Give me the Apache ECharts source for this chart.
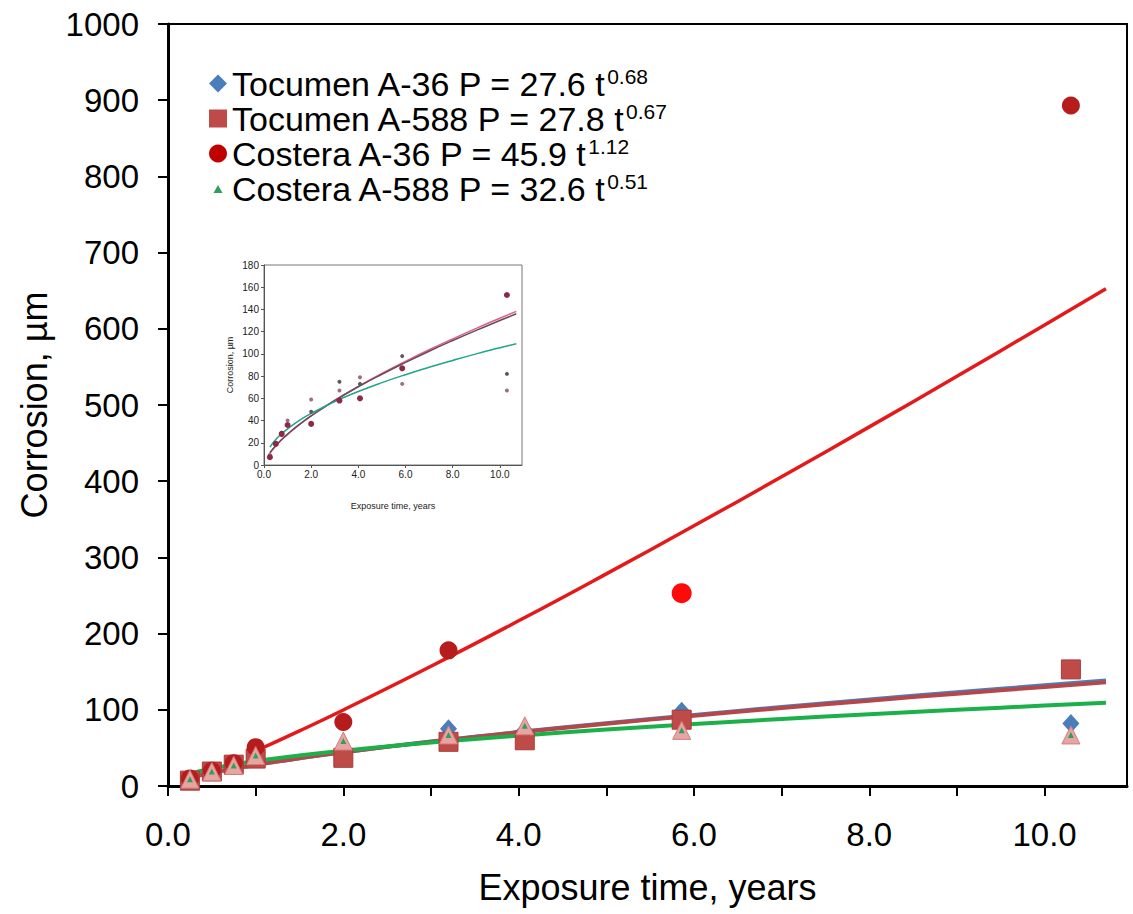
<!DOCTYPE html>
<html><head><meta charset="utf-8">
<script src="https://cdn.jsdelivr.net/npm/echarts@6/dist/echarts.min.js"></script>
<style>html,body{margin:0;padding:0;background:#fff}#c{width:1133px;height:914px}</style>
</head><body><div id="c"></div>
<script>
// ---- measured points (exposure time in years, corrosion in µm) ----
const tTocumen = [0.25, 0.5, 0.75, 1.0, 2.0, 3.2, 4.07, 5.86, 10.3];
const tocumenA36 = [8, 20, 29, 36, 48, 75, 73, 98, 82];
const tocumenA588 = [7, 19, 28, 36, 37, 58, 60, 87, 153];
const tCosteraA36 = [0.25, 0.5, 0.75, 1.0, 2.0, 3.2, 5.86, 10.3];
const costeraA36 = [10, 20, 30, 51, 84, 178, 253, 893];
const tCosteraA588 = [0.25, 0.5, 0.75, 1.0, 2.0, 3.2, 4.07, 5.86, 10.3];
const costeraA588 = [9, 19, 27, 40, 59, 67, 79, 73, 67];

// ---- fitted curves ----
const fitT = [0.25, 0.5, 0.75, 1, 1.5, 2, 3, 4, 5, 6, 7, 8, 9, 10, 10.7];
const fitTocumenA36 = [10.8, 17.2, 22.7, 27.6, 36.4, 44.2, 58.3, 70.8, 82.5, 93.3, 103.7, 113.5, 123.0, 132.1, 138.3];
const fitTocumenA588 = [11.0, 17.5, 22.9, 27.8, 36.5, 44.2, 58.0, 70.4, 81.7, 92.3, 102.4, 112.0, 121.2, 130.0, 136.1];
const fitCosteraA588 = [16.1, 22.9, 28.2, 32.6, 40.1, 46.4, 57.1, 66.1, 74.1, 81.3, 87.9, 94.1, 100.0, 105.5, 109.2];
const fitTCosteraA36 = [1, 1.5, 2, 3, 4, 5, 6, 7, 8, 9, 10, 10.7];
const fitCosteraA36 = [45.9, 72.3, 99.8, 157.1, 216.8, 278.4, 341.5, 405.8, 471.3, 537.7, 605.1, 652.7];

// ---- text ----
const seriesNames = ['Tocumen A-36', 'Tocumen A-588', 'Costera A-36', 'Costera A-588'];
const legendEq = ['P = 27.6 t', 'P = 27.8 t', 'P = 45.9 t', 'P = 32.6 t'];
const legendExp = ['0.68', '0.67', '1.12', '0.51'];
const xTitle = 'Exposure time, years';
const yTitle = 'Corrosion, µm';

const pairs = (xs, ys) => xs.map((x, i) => [x, ys[i]]);
const NARROW = "'Liberation Sans Narrow', 'Arial Narrow', 'Liberation Sans', sans-serif";
const ARIAL = "'Liberation Sans', Arial, sans-serif";

const chart = echarts.init(document.getElementById('c'), null, {renderer: 'svg'});

const evenLabel = v => {
  const r = Math.round(v);
  return (Math.abs(v - r) < 1e-6 && r % 2 === 0) ? r.toFixed(1) : '';
};

const option = {
  backgroundColor: '#fff',
  animation: false,
  grid: [
    {left: 168, top: 24, right: 6, bottom: 128, show: true, borderColor: '#000', borderWidth: 2, z: 0},
    {left: 264, top: 265, width: 258, height: 200, show: true, borderColor: '#777', borderWidth: 1, backgroundColor: '#fff', z: 3}
  ],
  xAxis: [
    {
      gridIndex: 0, type: 'value', min: 0, max: 10.94, interval: 1,
      axisLine: {show: true, lineStyle: {color: '#000', width: 3}},
      axisTick: {show: true, length: 10, inside: false, lineStyle: {color: '#000', width: 2}},
      axisLabel: {formatter: evenLabel, fontSize: 33, margin: 32, color: '#000', fontFamily: NARROW, showMaxLabel: false},
      splitLine: {show: false},
      name: xTitle, nameLocation: 'middle', nameGap: 83,
      nameTextStyle: {fontSize: 36, color: '#000', fontFamily: NARROW}
    },
    {
      gridIndex: 1, type: 'value', min: 0, max: 10.94, interval: 2,
      axisLine: {show: true, lineStyle: {color: '#555', width: 1}},
      axisTick: {show: true, length: 3, inside: false, lineStyle: {color: '#555'}},
      axisLabel: {formatter: v => Number.isInteger(v) ? v.toFixed(1) : '', fontSize: 10, margin: 4, color: '#222', fontFamily: ARIAL, showMaxLabel: false},
      splitLine: {show: false},
      name: xTitle, nameLocation: 'middle', nameGap: 36,
      nameTextStyle: {fontSize: 9, color: '#222', fontFamily: ARIAL},
      z: 4
    }
  ],
  yAxis: [
    {
      gridIndex: 0, type: 'value', min: 0, max: 1000, interval: 100,
      axisLine: {show: true, lineStyle: {color: '#000', width: 3}},
      axisTick: {show: true, length: 10, inside: false, lineStyle: {color: '#000', width: 2}},
      axisLabel: {formatter: v => String(v), fontSize: 33, margin: 29, color: '#000', fontFamily: ARIAL},
      splitLine: {show: false},
      name: yTitle, nameLocation: 'middle', nameGap: 116,
      nameTextStyle: {fontSize: 36, color: '#000', fontFamily: NARROW}
    },
    {
      gridIndex: 1, type: 'value', min: 0, max: 180, interval: 20,
      axisLine: {show: true, lineStyle: {color: '#555', width: 1}},
      axisTick: {show: true, length: 3, inside: false, lineStyle: {color: '#555'}},
      axisLabel: {fontSize: 10, margin: 5, color: '#222', fontFamily: ARIAL},
      splitLine: {show: false},
      name: yTitle, nameLocation: 'middle', nameGap: 30,
      nameTextStyle: {fontSize: 9, color: '#222', fontFamily: ARIAL},
      z: 4
    }
  ],
  legend: {
    orient: 'vertical', left: 204, top: 61, itemGap: 0, itemWidth: 18, itemHeight: 18,
    selectedMode: false,
    data: [
      {name: seriesNames[0], icon: 'diamond', itemStyle: {color: '#4a7ebb', borderWidth: 0}},
      {name: seriesNames[1], icon: 'rect', itemStyle: {color: '#be4b48', borderWidth: 0}},
      {name: seriesNames[2], icon: 'circle', itemStyle: {color: '#c00000', borderWidth: 0}},
      {name: seriesNames[3], icon: 'path://M0,0 M20,20 M10,6 L15,15 L5,15 Z', itemStyle: {color: '#2ea05a', borderWidth: 0}}
    ],
    formatter: name => {
      const i = seriesNames.indexOf(name);
      return '{m|' + name + ' ' + legendEq[i] + '}{s|' + legendExp[i] + '}';
    },
    textStyle: {
      fontFamily: ARIAL, fontSize: 34, color: '#000', lineHeight: 35,
      rich: {
        m: {fontFamily: ARIAL, fontSize: 34, color: '#000', lineHeight: 35},
        s: {fontFamily: ARIAL, fontSize: 21, color: '#000', lineHeight: 22, verticalAlign: 'top'}
      }
    }
  },
  series: [
    // main fits
    {name: 'fitTA36', type: 'line', xAxisIndex: 0, yAxisIndex: 0, data: pairs(fitT, fitTocumenA36), smooth: true, showSymbol: false, lineStyle: {color: '#4a7ebb', width: 4}, silent: true, z: 2},
    {name: 'fitTA588', type: 'line', xAxisIndex: 0, yAxisIndex: 0, data: pairs(fitT, fitTocumenA588), smooth: true, showSymbol: false, lineStyle: {color: '#b5474a', width: 4}, silent: true, z: 2},
    {name: 'fitCA588', type: 'line', xAxisIndex: 0, yAxisIndex: 0, data: pairs(fitT, fitCosteraA588), smooth: true, showSymbol: false, lineStyle: {color: '#1cb04a', width: 4}, silent: true, z: 2},
    {name: 'fitCA36', type: 'line', xAxisIndex: 0, yAxisIndex: 0, data: pairs(fitTCosteraA36, fitCosteraA36), smooth: true, showSymbol: false, lineStyle: {color: '#e41a1a', width: 3.5}, silent: true, z: 2},
    // main markers
    {name: seriesNames[0], type: 'scatter', xAxisIndex: 0, yAxisIndex: 0, data: pairs(tTocumen, tocumenA36), symbol: 'diamond', symbolSize: [17, 19], itemStyle: {color: '#4a7ebb', opacity: 1}, z: 3},
    {name: seriesNames[1], type: 'scatter', xAxisIndex: 0, yAxisIndex: 0, data: pairs(tTocumen, tocumenA588), symbol: 'rect', symbolSize: 19, itemStyle: {color: '#be4b48', borderColor: '#a83c3c', borderWidth: 1, opacity: 1}, z: 3},
    {name: seriesNames[2], type: 'scatter', xAxisIndex: 0, yAxisIndex: 0,
      data: pairs(tCosteraA36, costeraA36).map(p => p[0] === 5.86 ? {value: p, itemStyle: {color: '#ff0a0a'}, symbolSize: 20} : p),
      symbol: 'circle', symbolSize: 18, itemStyle: {color: '#b71c1c', opacity: 1}, z: 3},
    {name: seriesNames[3], type: 'scatter', xAxisIndex: 0, yAxisIndex: 0, data: pairs(tCosteraA588, costeraA588), symbol: 'triangle', symbolSize: 18, itemStyle: {color: '#e8a4a2', borderColor: '#cf7f7c', borderWidth: 1, opacity: 1}, z: 3},
    {name: 'costeraA588core', type: 'scatter', xAxisIndex: 0, yAxisIndex: 0, data: pairs(tCosteraA588, costeraA588), symbol: 'triangle', symbolSize: 6, itemStyle: {color: '#2ea05a', opacity: 1}, silent: true, z: 3},
    // inset
    {name: 'insetFitTA36', type: 'line', xAxisIndex: 1, yAxisIndex: 1, data: pairs(fitT, fitTocumenA36), smooth: true, showSymbol: false, lineStyle: {color: '#e06080', width: 1.5}, silent: true, z: 5},
    {name: 'insetFitTA588', type: 'line', xAxisIndex: 1, yAxisIndex: 1, data: pairs(fitT, fitTocumenA588), smooth: true, showSymbol: false, lineStyle: {color: '#6a4a5c', width: 1.5}, silent: true, z: 5},
    {name: 'insetFitCA588', type: 'line', xAxisIndex: 1, yAxisIndex: 1, data: pairs(fitT, fitCosteraA588), smooth: true, showSymbol: false, lineStyle: {color: '#1fa58a', width: 1.5}, silent: true, z: 5},
    {name: 'insetTA36', type: 'scatter', xAxisIndex: 1, yAxisIndex: 1, data: pairs(tTocumen, tocumenA36), symbol: 'circle', symbolSize: 4, itemStyle: {color: '#5a5a5a', opacity: 1}, silent: true, z: 6},
    {name: 'insetCA588', type: 'scatter', xAxisIndex: 1, yAxisIndex: 1, data: pairs(tCosteraA588, costeraA588), symbol: 'circle', symbolSize: 4, itemStyle: {color: '#9a7080', opacity: 1}, silent: true, z: 6},
    {name: 'insetTA588', type: 'scatter', xAxisIndex: 1, yAxisIndex: 1, data: pairs(tTocumen, tocumenA588), symbol: 'circle', symbolSize: 6, itemStyle: {color: '#8c2a45', opacity: 1}, silent: true, z: 6}
  ]
};
chart.setOption(option);
</script>
</body></html>
